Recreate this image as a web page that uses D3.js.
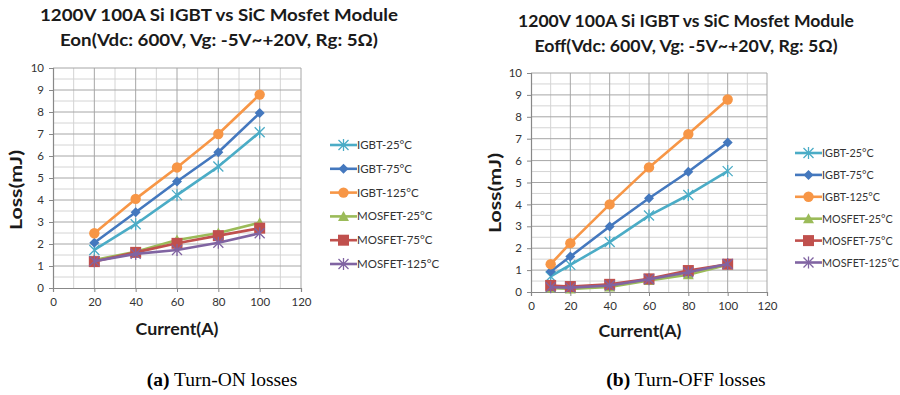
<!DOCTYPE html>
<html>
<head>
<meta charset="utf-8">
<script src="https://cdn.jsdelivr.net/npm/d3@7"></script>
<style>
  html, body { margin: 0; padding: 0; background: #fff; }
  svg { display: block; }
</style>
</head>
<body>
<svg id="fig" width="900" height="395"></svg>
<script>
// Series names and colours (shared by both panels)
const seriesNames = ["IGBT-25°C", "IGBT-75°C", "IGBT-125°C", "MOSFET-25°C", "MOSFET-75°C", "MOSFET-125°C"];
const seriesColors = ["#4bacc6", "#4478be", "#f79646", "#9bbb59", "#c0504d", "#8064a2"];
const seriesMarkers = ["asterisk", "diamond", "circle", "triangle", "square", "cross"];

// Turn-ON energy (mJ) vs current (A)
const eonCurrent = [20, 40, 60, 80, 100];
const eonIgbt25   = [1.73, 2.90, 4.22, 5.52, 7.08];
const eonIgbt75   = [2.06, 3.44, 4.84, 6.17, 7.95];
const eonIgbt125  = [2.49, 4.05, 5.48, 7.00, 8.79];
const eonMos25    = [1.27, 1.65, 2.18, 2.50, 2.97];
const eonMos75    = [1.20, 1.62, 2.03, 2.38, 2.72];
const eonMos125   = [1.22, 1.55, 1.73, 2.06, 2.49];

// Turn-OFF energy (mJ) vs current (A)
const eoffCurrent = [10, 20, 40, 60, 80, 100];
const eoffIgbt25  = [0.71, 1.24, 2.28, 3.49, 4.43, 5.52];
const eoffIgbt75  = [0.94, 1.62, 2.99, 4.28, 5.49, 6.83];
const eoffIgbt125 = [1.27, 2.23, 4.00, 5.69, 7.21, 8.79];
const eoffMos25   = [0.18, 0.14, 0.23, 0.53, 0.79, 1.24];
const eoffMos75   = [0.30, 0.25, 0.35, 0.60, 0.98, 1.27];
const eoffMos125  = [0.22, 0.20, 0.30, 0.58, 0.90, 1.28];

// Axis ticks
const xTicks = [0, 20, 40, 60, 80, 100, 120];
const yTicks = [0, 1, 2, 3, 4, 5, 6, 7, 8, 9, 10];

const titleLine1 = "1200V 100A Si IGBT vs SiC Mosfet Module";
const eonTitle2 = "Eon(Vdc: 600V, Vg: -5V~+20V,  Rg: 5Ω)";
const eoffTitle2 = "Eoff(Vdc: 600V, Vg: -5V~+20V,  Rg: 5Ω)";

const svg = d3.select("#fig");
const chartFont = "Lato, 'Open Sans', 'DejaVu Sans', sans-serif";

function marker(g, type, color, x, y) {
  const s = g.append("g").attr("transform", `translate(${x},${y})`);
  if (type === "circle") {
    s.append("circle").attr("r", 5.2).attr("fill", color);
  } else if (type === "diamond") {
    s.append("path").attr("d", "M0,-5L5,0L0,5L-5,0Z").attr("fill", color);
  } else if (type === "square") {
    s.append("rect").attr("x", -5.5).attr("y", -5.5).attr("width", 11).attr("height", 11).attr("fill", color);
  } else if (type === "triangle") {
    s.append("path").attr("d", "M0,-5.5L5.5,4.5L-5.5,4.5Z").attr("fill", color);
  } else {
    // asterisk-style markers: an X with a vertical stroke
    s.append("path").attr("d", "M-5,-5L5,5M-5,5L5,-5M0,-6L0,6")
      .attr("stroke", color).attr("stroke-width", 1.3).attr("fill", "none");
  }
}

function panel(opts) {
  const g = svg.append("g");
  const x = d3.scaleLinear().domain([0, 120]).range([opts.x0, opts.x1]);
  const y = d3.scaleLinear().domain([0, 10]).range([opts.y0, opts.y1]);

  // minor grid
  const minorX = d3.range(10, 120, 20);
  const minorY = d3.range(0.5, 10, 1);
  g.selectAll(".mx").data(minorX).join("line")
    .attr("x1", d => x(d)).attr("x2", d => x(d)).attr("y1", y(0)).attr("y2", y(10))
    .attr("stroke", "#d4d4d4").attr("stroke-width", 1);
  g.selectAll(".my").data(minorY).join("line")
    .attr("x1", x(0)).attr("x2", x(120)).attr("y1", d => y(d)).attr("y2", d => y(d))
    .attr("stroke", "#d4d4d4").attr("stroke-width", 1);
  // major grid
  g.selectAll(".gx").data(xTicks.slice(1)).join("line")
    .attr("x1", d => x(d)).attr("x2", d => x(d)).attr("y1", y(0)).attr("y2", y(10))
    .attr("stroke", "#a6a6a6").attr("stroke-width", 1);
  g.selectAll(".gy").data(yTicks.slice(1)).join("line")
    .attr("x1", x(0)).attr("x2", x(120)).attr("y1", d => y(d)).attr("y2", d => y(d))
    .attr("stroke", "#a6a6a6").attr("stroke-width", 1);

  // axes
  const xAxis = g.append("g").attr("transform", `translate(0,${y(0)})`)
    .call(d3.axisBottom(x).tickValues(xTicks).tickSize(4).tickPadding(6));
  const yAxis = g.append("g").attr("transform", `translate(${x(0)},0)`)
    .call(d3.axisLeft(y).tickValues(yTicks).tickSize(4).tickPadding(5));
  [xAxis, yAxis].forEach(a => {
    a.select(".domain").attr("stroke", "#888").attr("stroke-width", 1.2);
    a.selectAll(".tick line").attr("stroke", "#888");
    a.selectAll(".tick text").attr("fill", "#333").attr("font-size", 11.5).attr("font-family", chartFont);
  });

  // series
  const line = d3.line().x(d => x(d[0])).y(d => y(d[1]));
  opts.series.forEach((vals, i) => {
    const pts = opts.current.map((c, k) => [c, vals[k]]);
    g.append("path").datum(pts).attr("d", line)
      .attr("fill", "none").attr("stroke", seriesColors[i]).attr("stroke-width", 2.6)
      .attr("stroke-linejoin", "round");
    pts.forEach(p => marker(g, seriesMarkers[i], seriesColors[i], x(p[0]), y(p[1])));
  });

  // titles
  g.append("text").attr("x", opts.tx).attr("y", opts.ty1).attr("text-anchor", "middle")
    .attr("font-family", chartFont).attr("font-weight", "bold").attr("font-size", 17)
    .attr("fill", "#1a1a1a").attr("textLength", opts.tw1).attr("lengthAdjust", "spacingAndGlyphs")
    .text(titleLine1);
  g.append("text").attr("x", opts.tx).attr("y", opts.ty2).attr("text-anchor", "middle")
    .attr("font-family", chartFont).attr("font-weight", "bold").attr("font-size", 17)
    .attr("fill", "#1a1a1a").attr("textLength", opts.tw2).attr("lengthAdjust", "spacingAndGlyphs")
    .text(opts.title2);

  // axis titles
  g.append("text").attr("x", opts.cx).attr("y", opts.cy).attr("text-anchor", "middle")
    .attr("font-family", chartFont).attr("font-weight", "bold").attr("font-size", 17)
    .attr("fill", "#1a1a1a").attr("textLength", 83).attr("lengthAdjust", "spacingAndGlyphs")
    .text("Current(A)");
  g.append("text").attr("transform", `translate(${opts.lx},${opts.ly}) rotate(-90)`)
    .attr("text-anchor", "middle")
    .attr("font-family", chartFont).attr("font-weight", "bold").attr("font-size", 17)
    .attr("fill", "#1a1a1a").attr("textLength", 80).attr("lengthAdjust", "spacingAndGlyphs")
    .text("Loss(mJ)");

  // legend
  seriesNames.forEach((name, i) => {
    const ly = opts.legY + i * opts.legStep;
    g.append("line").attr("x1", opts.legX).attr("x2", opts.legX + 27).attr("y1", ly).attr("y2", ly)
      .attr("stroke", seriesColors[i]).attr("stroke-width", 2.6);
    marker(g, seriesMarkers[i], seriesColors[i], opts.legX + 13.5, ly);
    g.append("text").attr("x", opts.legX + 27).attr("y", ly + 4)
      .attr("font-family", chartFont).attr("font-size", opts.legFont).attr("fill", "#333")
      .text(name);
  });

  // caption
  const cap = g.append("text").attr("x", opts.capX).attr("y", 386).attr("text-anchor", "middle")
    .attr("font-family", "'Liberation Serif', 'DejaVu Serif', serif").attr("font-size", 19.5).attr("fill", "#000");
  cap.append("tspan").attr("font-weight", "bold").text(opts.capTag);
  cap.append("tspan").text(" " + opts.capText);
}

panel({
  x0: 53, x1: 301, y0: 288, y1: 68,
  current: eonCurrent,
  series: [eonIgbt25, eonIgbt75, eonIgbt125, eonMos25, eonMos75, eonMos125],
  tx: 219, ty1: 21, ty2: 46, tw1: 358, tw2: 318, title2: eonTitle2,
  cx: 177, cy: 335, lx: 22, ly: 190,
  legX: 330, legY: 145, legStep: 23.8, legFont: 11.5,
  capX: 222, capTag: "(a)", capText: "Turn-ON losses"
});

panel({
  x0: 531, x1: 767, y0: 292, y1: 73,
  current: eoffCurrent,
  series: [eoffIgbt25, eoffIgbt75, eoffIgbt125, eoffMos25, eoffMos75, eoffMos125],
  tx: 686, ty1: 27, ty2: 52, tw1: 336, tw2: 303, title2: eoffTitle2,
  cx: 640, cy: 337, lx: 501, ly: 193,
  legX: 795, legY: 153, legStep: 21.9, legFont: 10.8,
  capX: 686, capTag: "(b)", capText: "Turn-OFF losses"
});
</script>
</body>
</html>
